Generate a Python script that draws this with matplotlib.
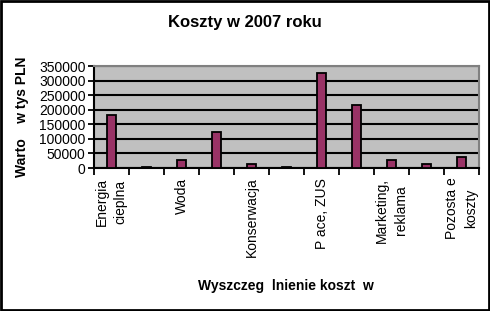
import numpy as np
import matplotlib
matplotlib.use('Agg')
import matplotlib.pyplot as plt
from matplotlib.patches import Rectangle

# data
labels = ['Energia\ncieplna', '', 'Woda', '', 'Konserwacja', '',
          'P ace, ZUS', '', 'Marketing,\nreklama', '', 'Pozosta e\nkoszty']
values = [181000, 5000, 27000, 123000, 14000, 3000,
          327000, 216000, 28000, 12500, 38000]
yticks = [0, 50000, 100000, 150000, 200000, 250000, 300000, 350000]

plt.rcParams['font.family'] = ['Liberation Sans', 'DejaVu Sans']

fig = plt.figure(figsize=(4.9, 3.11), dpi=100)
fig.patch.set_facecolor('white')
ax = fig.add_axes([94/490, 1-168/311, 385/490, 102/311])
ax.set_facecolor('#C0C0C0')

x = np.arange(len(values))
ax.set_axisbelow(True)
ax.yaxis.grid(True, color='black', linewidth=1.5)
ax.bar(x, values, width=0.28, color='#993366', edgecolor='black', linewidth=1.3, zorder=3)

ax.set_xlim(-0.5, len(values)-0.5)
ax.set_ylim(0, 350000)
ax.set_yticks(yticks)
ax.set_yticklabels([str(v) for v in yticks], fontsize=10)

ax.set_xticks(x)
ax.set_xticklabels(labels, rotation=90, fontsize=10, va='top', ha='center',
                   linespacing=1.4)
ax.tick_params(axis='x', which='major', length=0, pad=7)
ax.set_xticks(np.arange(-0.5, len(values)), minor=True)
ax.tick_params(axis='x', which='minor', length=5, width=1.3, color='black', direction='out')
ax.tick_params(axis='y', length=4, width=1.3, direction='out', pad=2)

for s in ['top', 'right']:
    ax.spines[s].set_color('#808080')
    ax.spines[s].set_linewidth(1.5)
for s in ['left', 'bottom']:
    ax.spines[s].set_color('black')
    ax.spines[s].set_linewidth(1.5)

fig.text(245/490, 1-23/311, 'Koszty w 2007 roku', fontsize=12, fontweight='bold',
         ha='center', va='center')
fig.text(22/490, 1-117/311, 'Warto    w tys PLN', fontsize=10, fontweight='bold',
         rotation=90, ha='center', va='center')
fig.text(286/490, 1-286/311, 'Wyszczeg  lnienie koszt  w', fontsize=10, fontweight='bold',
         ha='center', va='center')

fig.patches.append(Rectangle((0.002, 0.003), 0.996, 0.994, transform=fig.transFigure,
                             fill=False, edgecolor='black', linewidth=2))

fig.savefig('out.png', dpi=100)
